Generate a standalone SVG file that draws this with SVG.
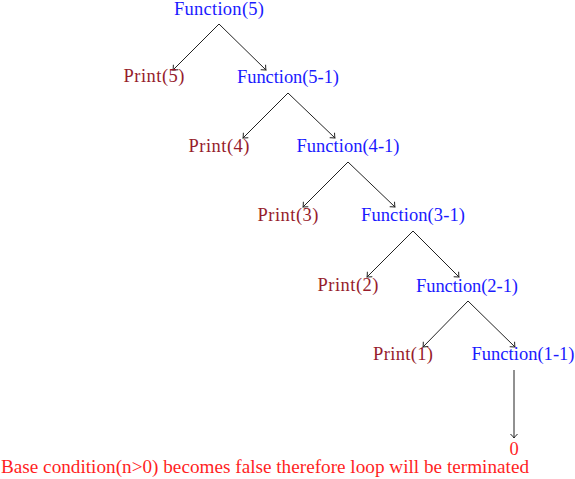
<svg xmlns="http://www.w3.org/2000/svg" width="575" height="479" viewBox="0 0 575 479">
<style>
text{font-family:"Liberation Serif","Times New Roman",serif;font-size:18.5px;text-anchor:middle}
.f{fill:#1a1aff}
.p{fill:#961c2c}
.r{fill:#ff1f1f}
.e{stroke:#222;stroke-width:1;fill:none;marker-end:url(#ah)}
</style>
<defs>
<marker id="ah" viewBox="-5 -5 6 10" refX="0" refY="0" markerWidth="6" markerHeight="10" markerUnits="userSpaceOnUse" orient="auto">
<path d="M-4,-3.5 Q-1.5,-1 0,0 Q-1.5,1 -4,3.5" fill="none" stroke="#222" stroke-width="1"/>
</marker>
</defs>
<rect width="575" height="479" fill="#fff"/>
<g id="connectors">
<line class="e" x1="219" y1="24" x2="173" y2="70"/>
<line class="e" x1="219" y1="24" x2="266" y2="70"/>
<line class="e" x1="288" y1="93" x2="243" y2="138"/>
<line class="e" x1="288" y1="93" x2="335" y2="138"/>
<line class="e" x1="348" y1="162" x2="303" y2="207"/>
<line class="e" x1="348" y1="162" x2="395" y2="207"/>
<line class="e" x1="413" y1="231" x2="367" y2="277"/>
<line class="e" x1="413" y1="231" x2="459" y2="277"/>
<line class="e" x1="468" y1="301" x2="423" y2="347"/>
<line class="e" x1="468" y1="301" x2="515" y2="347"/>
<line class="e" x1="514" y1="370" x2="514" y2="438"/>
</g>
<g id="n_f5"><text class="f" x="219" y="15" textLength="90">Function(5)</text></g>
<g id="n_p5"><text class="p" x="154" y="82" textLength="61">Print(5)</text></g>
<g id="n_f51"><text class="f" x="288" y="83" textLength="102">Function(5-1)</text></g>
<g id="n_p4"><text class="p" x="219" y="152" textLength="61">Print(4)</text></g>
<g id="n_f41"><text class="f" x="348" y="152" textLength="103">Function(4-1)</text></g>
<g id="n_p3"><text class="p" x="288" y="221" textLength="61">Print(3)</text></g>
<g id="n_f31"><text class="f" x="413" y="221" textLength="104">Function(3-1)</text></g>
<g id="n_p2"><text class="p" x="348" y="291" textLength="61">Print(2)</text></g>
<g id="n_f21"><text class="f" x="467" y="292" textLength="102">Function(2-1)</text></g>
<g id="n_p1"><text class="p" x="403" y="360" textLength="60">Print(1)</text></g>
<g id="n_f11"><text class="f" x="523" y="360" textLength="103">Function(1-1)</text></g>
<g id="n_zero"><text class="r" x="514" y="455">0</text></g>
<g id="n_note"><text class="r" x="265" y="473" textLength="528" lengthAdjust="spacingAndGlyphs">Base condition(n&gt;0) becomes false therefore loop will be terminated</text></g>
</svg>
